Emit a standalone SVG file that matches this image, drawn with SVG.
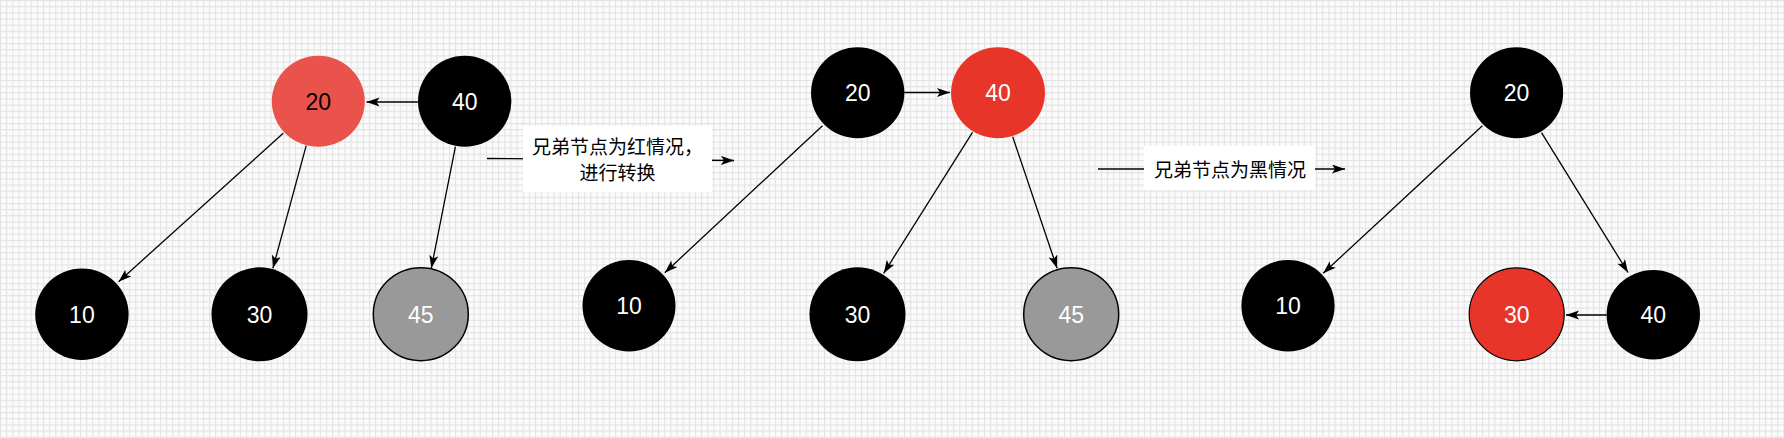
<svg xmlns="http://www.w3.org/2000/svg" width="1784" height="438" viewBox="0 0 1784 438">
<style>
.edge{stroke:#000;stroke-width:1.3;fill:none;marker-end:url(#arr)}
.conn{stroke:#000;stroke-width:1.3;fill:none;marker-end:url(#arr)}
.blk{fill:#000}
.red1{fill:#EA524C}
.red2{fill:#E8352A;stroke:#000;stroke-width:1.2}
.red2n{fill:#E8352A}
.gray{fill:#999;stroke:#000;stroke-width:1.5}
.num{font-family:"Liberation Sans",Arial,sans-serif;font-size:23px;text-anchor:middle;fill:#fff}
.numd{fill:#000}
.lbl{font-family:"Noto Sans CJK SC","Noto Sans",sans-serif;font-size:19px;text-anchor:middle;fill:#000}
.lblbg{fill:#fff}
</style>
<defs>
<pattern id="grid" patternUnits="userSpaceOnUse" width="6.15" height="6.15">
<rect width="6.15" height="6.15" fill="#fbfbfb"/>
<path d="M0 0.5H6.15M0.5 0V6.15" stroke="#e2e2e2" stroke-width="1"/>
</pattern>
<marker id="arr" markerUnits="userSpaceOnUse" markerWidth="14" markerHeight="10" refX="13" refY="4.5" orient="auto">
<path d="M0,0 L13,4.5 L0,9 L3,4.5 Z" fill="#000"/>
</marker>
</defs>
<rect width="1784" height="438" fill="url(#grid)"/>
<g id="connectors">
<line class="edge" x1="283.2" y1="133.3" x2="118.6" y2="281.7"/>
<line class="edge" x1="306.2" y1="145.7" x2="272.9" y2="268.3"/>
<line class="edge" x1="455.4" y1="146.7" x2="431.3" y2="268.3"/>
<line class="edge" x1="417.9" y1="102" x2="366.5" y2="102"/>
<line class="edge" x1="822.5" y1="125.7" x2="664.8" y2="272.7"/>
<line class="edge" x1="904.3" y1="92.5" x2="950" y2="92.5"/>
<line class="edge" x1="972.5" y1="132.3" x2="883.7" y2="273.3"/>
<line class="edge" x1="1012.7" y1="136.7" x2="1057.1" y2="268.3"/>
<line class="edge" x1="1482.4" y1="125.7" x2="1323.2" y2="273.3"/>
<line class="edge" x1="1541.5" y1="132.7" x2="1628" y2="272.5"/>
<line class="edge" x1="1606.7" y1="315" x2="1566" y2="315"/>
<line class="conn" x1="487" y1="158.5" x2="734" y2="160.5"/>
<line class="conn" x1="1098" y1="169" x2="1345" y2="169"/>
</g>
<g id="label1">
<rect class="lblbg" x="523" y="126" width="189" height="66"/>
<text class="lbl" x="617.5" y="153.5">兄弟节点为红情况，</text>
<text class="lbl" x="617.5" y="180.3">进行转换</text>
</g>
<g id="label2">
<rect class="lblbg" x="1144" y="146" width="171" height="44"/>
<text class="lbl" x="1230" y="177">兄弟节点为黑情况</text>
</g>
<g id="t1n20"><ellipse class="red1" cx="318.3" cy="101.3" rx="46.5" ry="45.5"/><text class="num numd" x="318.3" y="109.5">20</text></g>
<g id="t1n40"><ellipse class="blk" cx="464.7" cy="101.3" rx="46.7" ry="45.5"/><text class="num" x="464.7" y="109.5">40</text></g>
<g id="t1n10"><ellipse class="blk" cx="81.9" cy="314.3" rx="46.7" ry="45.7"/><text class="num" x="81.9" y="322.5">10</text></g>
<g id="t1n30"><ellipse class="blk" cx="259.5" cy="314.3" rx="48" ry="47"/><text class="num" x="259.5" y="322.5">30</text></g>
<g id="t1n45"><ellipse class="gray" cx="420.8" cy="314.2" rx="47.5" ry="46.5"/><text class="num" x="420.8" y="322.5">45</text></g>
<g id="t2n20"><ellipse class="blk" cx="857.7" cy="92.8" rx="46.7" ry="45.5"/><text class="num" x="857.7" y="101">20</text></g>
<g id="t2n40"><ellipse class="red2n" cx="998" cy="92.8" rx="47" ry="45.5"/><text class="num" x="998" y="101">40</text></g>
<g id="t2n10"><ellipse class="blk" cx="629" cy="305.7" rx="46.5" ry="45.7"/><text class="num" x="629" y="314">10</text></g>
<g id="t2n30"><ellipse class="blk" cx="857.5" cy="314.3" rx="48" ry="47"/><text class="num" x="857.5" y="322.5">30</text></g>
<g id="t2n45"><ellipse class="gray" cx="1071.2" cy="314.2" rx="47.5" ry="46.5"/><text class="num" x="1071.2" y="322.5">45</text></g>
<g id="t3n20"><ellipse class="blk" cx="1516.6" cy="92.8" rx="46.6" ry="45.5"/><text class="num" x="1516.6" y="101">20</text></g>
<g id="t3n10"><ellipse class="blk" cx="1288" cy="305.7" rx="46.6" ry="45.7"/><text class="num" x="1288" y="314">10</text></g>
<g id="t3n30"><ellipse class="red2" cx="1516.7" cy="314.3" rx="47.5" ry="46.5"/><text class="num" x="1516.7" y="322.5">30</text></g>
<g id="t3n40"><ellipse class="blk" cx="1653.3" cy="314.7" rx="46.7" ry="44.7"/><text class="num" x="1653.3" y="323">40</text></g>
</svg>
